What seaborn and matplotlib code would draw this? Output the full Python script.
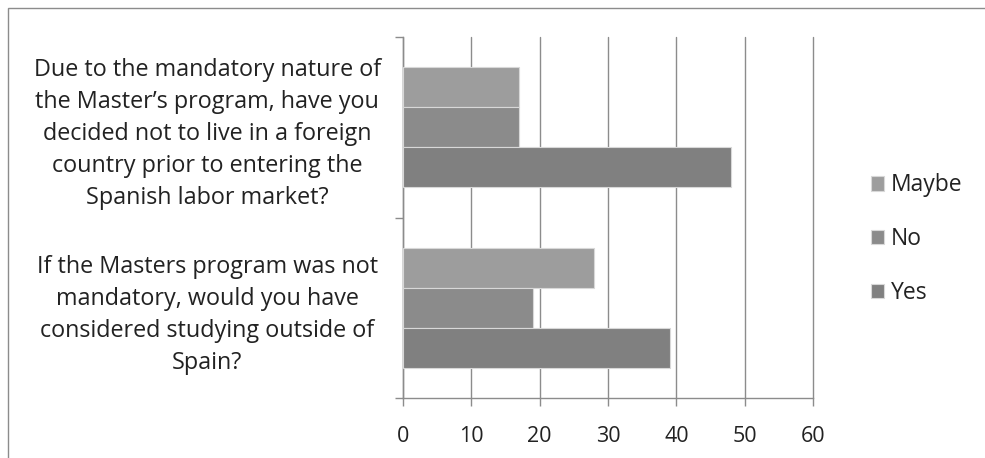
import pandas as pd
import seaborn as sns
import matplotlib.pyplot as plt
from matplotlib.patches import Rectangle

questions = [
    "Due to the mandatory nature of\nthe Master\u2019s program, have you\ndecided not to live in a foreign\ncountry prior to entering the\nSpanish labor market?",
    "If the Masters program was not\nmandatory, would you have\nconsidered studying outside of\nSpain?",
]
answers = ["Maybe", "No", "Yes"]
maybe = [17, 28]
no = [17, 19]
yes = [48, 39]
xticks = [0, 10, 20, 30, 40, 50, 60]

rows = []
for q, m, n, y in zip(questions, maybe, no, yes):
    rows.append({"question": q, "answer": "Maybe", "value": m})
    rows.append({"question": q, "answer": "No", "value": n})
    rows.append({"question": q, "answer": "Yes", "value": y})
df = pd.DataFrame(rows)

sns.set_style("white")
plt.rcParams['font.family'] = ['Open Sans', 'DejaVu Sans']

fig = plt.figure(figsize=(9.85, 4.58), dpi=100)
ax = fig.add_axes([403 / 985, 60 / 458, 410 / 985, 361 / 458])

palette = {"Maybe": "#9d9d9d", "No": "#8b8b8b", "Yes": "#808080"}
sns.barplot(data=df, y="question", x="value", hue="answer", hue_order=answers,
            order=questions, orient="h", palette=palette, width=2 / 3,
            edgecolor="#d8d8d8", linewidth=0.8, saturation=1, ax=ax, zorder=3)

ax.set_xlim(0, 60)
ax.set_ylim(1.5, -0.5)
ax.set_xticks(xticks)
ax.set_xticklabels([str(t) for t in xticks], fontsize=15.5, color="#222222")
ax.grid(axis="x", color="#8c8c8c", linewidth=1.0, zorder=0)
for gl in ax.get_xgridlines():
    gl.set_clip_on(False)
ax.set_axisbelow(True)
ax.set_yticks([0, 1])
ax.set_yticklabels(questions, fontsize=16.8, ha="center", linespacing=1.45,
                   color="#222222")
ax.set_yticks([-0.5, 0.5, 1.5], minor=True)
ax.tick_params(axis="y", which="major", length=0, pad=141)
ax.tick_params(axis="y", which="minor", length=6, color="#8c8c8c", width=1, left=True)
ax.tick_params(axis="x", length=6, color="#8c8c8c", width=1, bottom=True, pad=14)
ax.set_xlabel("")
ax.set_ylabel("")
for side in ["top", "right"]:
    ax.spines[side].set_visible(False)
for side in ["left", "bottom"]:
    ax.spines[side].set_color("#8c8c8c")
    ax.spines[side].set_linewidth(1)

leg = ax.legend(loc="center left", bbox_to_anchor=(1.09, 0.44), frameon=False,
                fontsize=16.5, handlelength=0.6, handleheight=0.6,
                handletextpad=0.3, labelspacing=1.3)
for t in leg.get_texts():
    t.set_color("#222222")

fig.patches.append(Rectangle((8 / 985, -0.1), 1.2, 1 - 8 / 458 + 0.1,
                             transform=fig.transFigure, fill=False,
                             edgecolor="#8c8c8c", linewidth=1))

fig.savefig("out.png", dpi=100)
